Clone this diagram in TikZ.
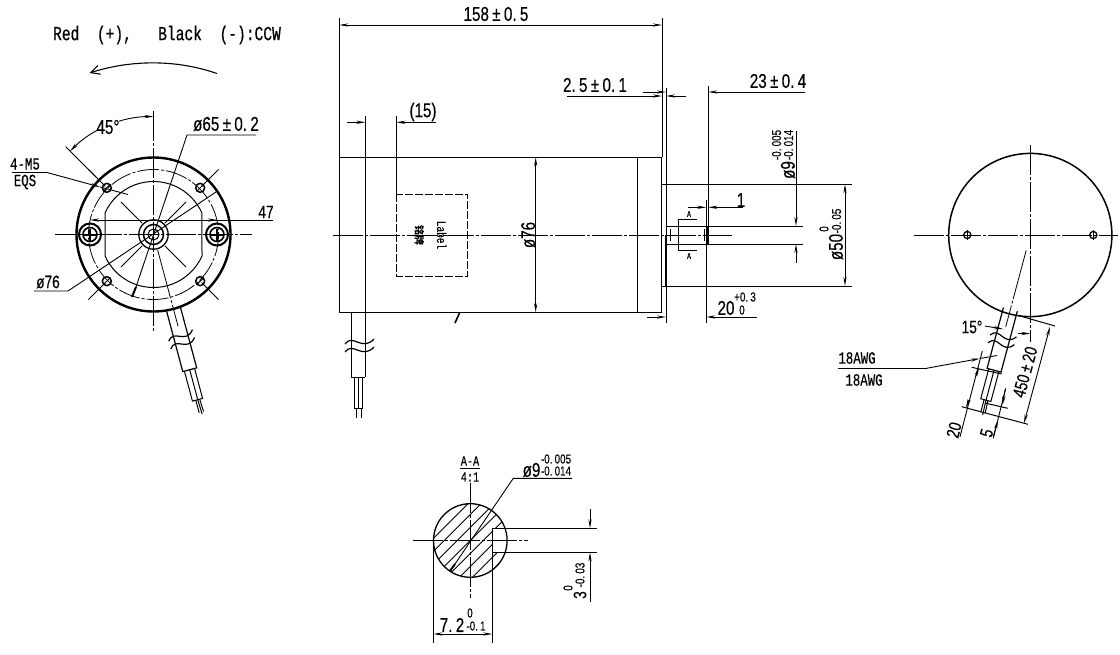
\documentclass[tikz,border=0pt]{standalone}
\usepackage{fontspec}
\newfontfamily\cadfont[FakeStretch=0.73,FakeBold=0.4]{Liberation Mono}
\newfontfamily\numfont[FakeStretch=0.76,FakeBold=0.3]{Liberation Sans}
\newfontfamily\cjkfont{Noto Sans CJK SC}
\usetikzlibrary{arrows.meta}
\usetikzlibrary{positioning}
\usetikzlibrary{calc}
\tikzstyle{outline}=[line width=2.4pt,black]
\tikzstyle{edge}=[line width=1pt,black]
\tikzstyle{axis}=[line width=0.8pt,black,dash pattern=on 30pt off 2pt on 3pt off 2pt]
\tikzstyle{dimline}=[line width=0.9pt,black,>={Stealth[length=9pt,width=3.2pt]}]
\tikzstyle{dimtext}=[inner sep=0pt,font=\numfont\fontsize{20}{20}\selectfont]
\tikzstyle{midtext}=[inner sep=0pt,font=\numfont\fontsize{18}{18}\selectfont]
\tikzstyle{word}=[inner sep=0pt,font=\cadfont\fontsize{17}{17}\selectfont]
\tikzstyle{tol}=[inner sep=0pt,font=\numfont\fontsize{13}{13}\selectfont]
\begin{document}
\begin{tikzpicture}[x=1pt,y=-1pt]
\useasboundingbox (0,0) rectangle (1120,654);
\coordinate (frontc) at (153.5,234.5);
\coordinate (rearc) at (1030.3,235);
\coordinate (secc) at (470.3,540.5);
%Front view
\node[word,font=\cadfont\fontsize{20}{20}\selectfont] (title) at (167,35) {Red~~(+),~~~Black~~(-):CCW};
\draw[edge,line width=1.1pt,-{Straight Barb[length=9pt,width=9pt]}] (217,73.5) .. controls (175,59) and (130,60) .. (89.5,73);
\draw[outline] (frontc) circle (77);
\draw[axis,dash pattern=on 22pt off 2pt on 3pt off 2pt] (frontc) circle (65);
\draw[edge,shift={(frontc)}] (48.5,21.4) arc (23.8:156.2:53) -- (-48.5,-21.4) arc (203.8:336.2:53) -- cycle;
\draw[axis] (55,234.5) -- (252,234.5);
\draw[axis] (153.5,111) -- (153.5,333);
\foreach \ang in {45,135,225,315}{
  \draw[axis,shift={(frontc)}] (\ang:16) -- (\ang:46);
  \draw[axis,shift={(frontc)}] (\ang:68) -- (\ang:92);
  \draw[edge,line width=1.5pt,shift={(frontc)}] (\ang:66) circle (4.5);
  \draw[edge,shift={(frontc)}] ($(\ang:66)+(-3,3)$) -- ($(\ang:66)+(3,-3)$);
}
\foreach \sx in {-63.5,63.5}{
  \draw[edge,line width=2pt,shift={(frontc)}] (\sx,0) circle (11);
  \draw[edge,line width=1.6pt,shift={(frontc)}] (\sx,0) circle (7);
  \draw[edge,line width=2pt,shift={(frontc)}] (\sx-6,0) -- (\sx+6,0);
  \draw[edge,line width=2pt,shift={(frontc)}] (\sx,-6) -- (\sx,6);
}
\draw[edge,line width=1.3pt] (frontc) circle (14.7);
\draw[edge,line width=1.5pt] (frontc) circle (10);
\draw[edge] (frontc) circle (5.5);
%Front view dimensions
\draw[edge] (65.7,146.7) -- (96,177);
\draw[dimline,<->] (70.1,151.1) arc (225:270:118);
\node[dimtext,fill=white] (angle) at (108,127) {45°};
\node[dimtext] (dphi) at (226,124) {ø65\,±\,0.\,2};
\draw[dimline] (256,135) -- (187,135) -- (136,287);
\draw[dimline,line width=2pt] (136,287) -- (132,297);
\node[word] (screw) at (25,164) {4-M5};
\node[word] (eqs) at (25,182) {EQS};
\draw[dimline,->] (12,172.5) -- (47,172.5) -- (100,187);
\draw[dimline] (100,187) -- (128,194.5);
\node[midtext] (pitch) at (266,212) {47};
\draw[dimline,<-] (90,220) -- (273,220);
\draw[dimline,->] (150,220) -- (217,220);
\node[midtext] (douter) at (48,282) {ø76};
\draw[dimline] (34,291) -- (68,291) -- (217.5,191);
%Cables of the front and rear views
\foreach \cx/\cy/\rot in {153.5/234.5/15,1030.3/235/-15}{
\begin{scope}[shift={(\cx,\cy)},rotate=\rot]
\draw[axis,dash pattern=on 50pt off 2pt on 3pt off 2pt] (0,16) -- (0,95);
\draw[edge,line width=1.2pt] (-7.2,77) -- (-7.2,140) -- (7.2,140) -- (7.2,77);
\draw[edge] (-5.5,140) -- (-5.5,171) -- (5,171) -- (5,140);
\draw[edge] (0,140) -- (0,171);
\draw[edge] (-2,171) -- (-2,184);
\draw[edge] (0,171) -- (0.5,186);
\draw[edge] (2,171) -- (2.5,184);
\draw[edge,line width=1.2pt] (-13,107) .. controls (-5,96) and (3,115) .. (13,102);
\draw[edge,line width=1.2pt] (-13,115) .. controls (-5,104) and (3,123) .. (13,110);
\end{scope}
}
%Side view
\draw[edge] (339.3,18) -- (339.3,312.3) -- (661.5,312.3);
\draw[edge] (339.3,157.3) -- (661.5,157.3);
\draw[edge] (637.3,157.3) -- (637.3,312.3);
\draw[edge] (662,18) -- (662,157);
\draw[edge,line width=1.8pt] (661.5,157.3) -- (661.5,312.3);
\draw[edge] (662,184.3) -- (852,184.3);
\draw[edge] (662,286) -- (852,286);
\draw[edge] (666,88) -- (666,323);
\draw[edge,line width=2pt] (666,235) -- (666,286);
\draw[edge] (666,226) -- (803,226);
\draw[edge] (666,244) -- (803,244);
\draw[edge] (708.3,86) -- (708.3,226);
\draw[edge] (706.3,200) -- (706.3,323);
\draw[edge,line width=2.4pt] (707.5,226) -- (707.5,244);
\draw[edge] (670.7,229) -- (670.7,241);
\draw[edge] (704,229) -- (704,241);
\draw[axis] (333,235) -- (732,235);
\draw[edge,line width=1.6pt] (459.5,313) -- (455,323);
\draw[edge] (351.5,312.3) -- (351.5,377) -- (365.3,377);
\draw[edge] (365.3,116) -- (365.3,377);
\draw[edge] (354.5,377) -- (354.5,408) -- (362,408) -- (362,377);
\draw[edge] (358.2,377) -- (358.2,408);
\draw[edge] (356.5,408) -- (356.5,418);
\draw[edge] (361,408) -- (361,418);
\draw[edge,line width=1.2pt] (345,344) .. controls (353,333) and (362,352) .. (374,339);
\draw[edge,line width=1.2pt] (345,352) .. controls (353,341) and (362,360) .. (374,347);
\draw[edge,dash pattern=on 8pt off 2pt] (396.3,194.3) rectangle (467.7,276);
\node[word,font=\cadfont\fontsize{13}{13}\selectfont,rotate=-90] (platelat) at (441.7,235) {Label};
\node[inner sep=0pt,font=\cjkfont\bfseries\fontsize{10}{10}\selectfont,rotate=-90] (plate) at (419.3,235) {铭牌};
%Side view dimensions
\node[dimtext] (length) at (496,14) {158\,±\,0.\,5};
\draw[dimline,<->] (339.3,25) -- (662,25);
\node[dimtext] (flange) at (595,85) {2.\,5\,±\,0.\,1};
\draw[dimline,->] (567,96) -- (662,96);
\draw[dimline,->] (686,96) -- (666,96);
\node[dimtext] (shaft) at (778,81) {23\,±\,0.\,4};
\draw[dimline,->] (643,92) -- (666,92);
\draw[dimline,->] (805,92) -- (708.3,92);
\node[dimtext] (lead) at (423,112) {(15)};
\draw[edge] (396.3,116) -- (396.3,194.3);
\draw[dimline,->] (347,122.3) -- (365.3,122.3);
\draw[dimline,->] (436,122.3) -- (396.3,122.3);
\node[dimtext,rotate=90] (dbody) at (528.3,235) {ø76};
\draw[dimline,<->] (535.7,157.3) -- (535.7,312.3);
\node[dimtext] (keystep) at (741,200) {1};
\draw[dimline,->] (688,207.3) -- (706.3,207.3);
\draw[dimline,->] (743,207.3) -- (708.3,207.3);
\draw[dimline] (697,219) -- (678,219) -- (678,250) -- (697,250);
\node[word,font=\cadfont\fontsize{9}{9}\selectfont] (secta) at (689,214) {A};
\node[word,font=\cadfont\fontsize{9}{9}\selectfont] (sectb) at (689,256) {A};
\node[dimtext,rotate=90] (dsh) at (788,170) {ø9};
\node[tol,rotate=90] (dshu) at (776.5,145) {-0.\,005};
\node[tol,rotate=90] (dshl) at (788.5,145) {-0.\,014};
\draw[dimline,->] (796,131) -- (796,226);
\draw[dimline,->] (796,263) -- (796,244);
\node[dimtext,rotate=90] (dpil) at (836,247) {ø50};
\node[tol,rotate=90] (dpill) at (836.5,221) {-0.\,05};
\node[tol,rotate=90] (dpilu) at (824,229) {0};
\draw[dimline,<->] (845,184.3) -- (845,286);
\node[dimtext] (boss) at (726,308) {20};
\node[tol] (bossu) at (745,297) {+0.\,3};
\node[tol] (bossl) at (742,310) {0};
\draw[dimline,->] (647,317) -- (666,317);
\draw[dimline,->] (757,317) -- (706.3,317);
%Rear view
\draw[edge,line width=1.5pt] (rearc) circle (81.6);
\draw[axis] (914,235) -- (1118,235);
\draw[axis] (1030.3,145) -- (1030.3,342);
\foreach \sx in {-63,63}{
  \draw[edge,line width=1.3pt,shift={(rearc)}] (\sx,0) circle (3.6);
  \draw[edge,shift={(rearc)}] (\sx,-5) -- (\sx,5);
}
%Rear view dimensions
\node[midtext] (angcable) at (972,327) {15°};
\draw[dimline,->] (985,326) -- (1003,329);
\draw[dimline,->] (1018,333.5) -- (1030.3,333.5);
\draw[dimline] (838,368.3) -- (926.5,368.3);
\draw[dimline,->] (926.5,368.3) -- (980,358.5);
\draw[dimline] (980,358.5) -- (997,355.5);
\node[word] (awgup) at (857,358) {18AWG};
\node[word] (awgdn) at (864,380) {18AWG};
\draw[edge] (971.7,367.3) -- (1001.7,374);
\draw[edge] (961.7,406.7) -- (1028,424.3);
\draw[edge] (985,403) -- (1007.7,408.3);
\draw[edge] (1020,316) -- (1055,326);
\draw[dimline] (982.3,351) -- (960,436.7);
\draw[dimline,->] (976,376) -- (979,367);
\draw[dimline,->] (969,400) -- (966,408);
\draw[dimline] (1005.7,388.3) -- (993.3,438.3);
\draw[dimline,->] (1005,390) -- (1002.5,405);
\draw[dimline,->] (993.5,436) -- (998,420);
\draw[dimline,<->] (1050,326.7) -- (1024,423.3);
\node[midtext,rotate=75] (cablelen) at (1025,372) {450\,±\,20};
\node[midtext,rotate=75] (cablet) at (954,430) {20};
\node[midtext,rotate=75] (cablew) at (986.7,433) {5};
%Section A-A
\begin{scope}
\clip (secc) circle (36.8);
\foreach \hx in {-65,-52,...,65}
  \draw[edge,line width=0.8pt] (470.3+\hx-40,580.5) -- (470.3+\hx+40,500.5);
\end{scope}
\fill[white] (492.3,528.3) rectangle (512,552.3);
\draw[edge,line width=1.3pt] (secc) circle (36.8);
\draw[edge] (492.3,528.3) -- (596.7,528.3);
\draw[edge] (492.3,552.3) -- (596.7,552.3);
\draw[edge] (492.3,528.3) -- (492.3,643);
\draw[edge] (433.3,540.5) -- (433.3,643);
\draw[axis] (413,540.5) -- (528,540.5);
\draw[axis] (470.3,483) -- (470.3,598);
\node[word,font=\cadfont\fontsize{14}{14}\selectfont] (secname) at (470,461) {A-A};
\draw[edge] (460,468.5) -- (480,468.5);
\node[word,font=\cadfont\fontsize{14}{14}\selectfont] (secscale) at (470,477) {4:1};
\node[dimtext] (dsec) at (531.5,470) {ø9};
\node[tol] (dsecu) at (556,459) {-0.\,005};
\node[tol] (dsecl) at (556,471) {-0.\,014};
\draw[dimline] (572,478.3) -- (513.3,478.3) -- (455,564);
\draw[dimline,line width=2pt] (455,564) -- (450,571);
\node[dimtext] (keypos) at (452,625) {7.\,2};
\node[tol] (keyposu) at (470,613) {0};
\node[tol] (keyposl) at (476,626) {-0.\,1};
\draw[dimline,<->] (433.3,634) -- (492.3,634);
\node[midtext,rotate=90] (keywid) at (580,595) {3};
\node[tol,rotate=90] (keywidl) at (580,575) {-0.\,03};
\node[tol,rotate=90] (keywidu) at (568,588) {0};
\draw[dimline,->] (590,509) -- (590,528.3);
\draw[dimline,->] (590,601.7) -- (590,552.3);
\end{tikzpicture}
\end{document}
